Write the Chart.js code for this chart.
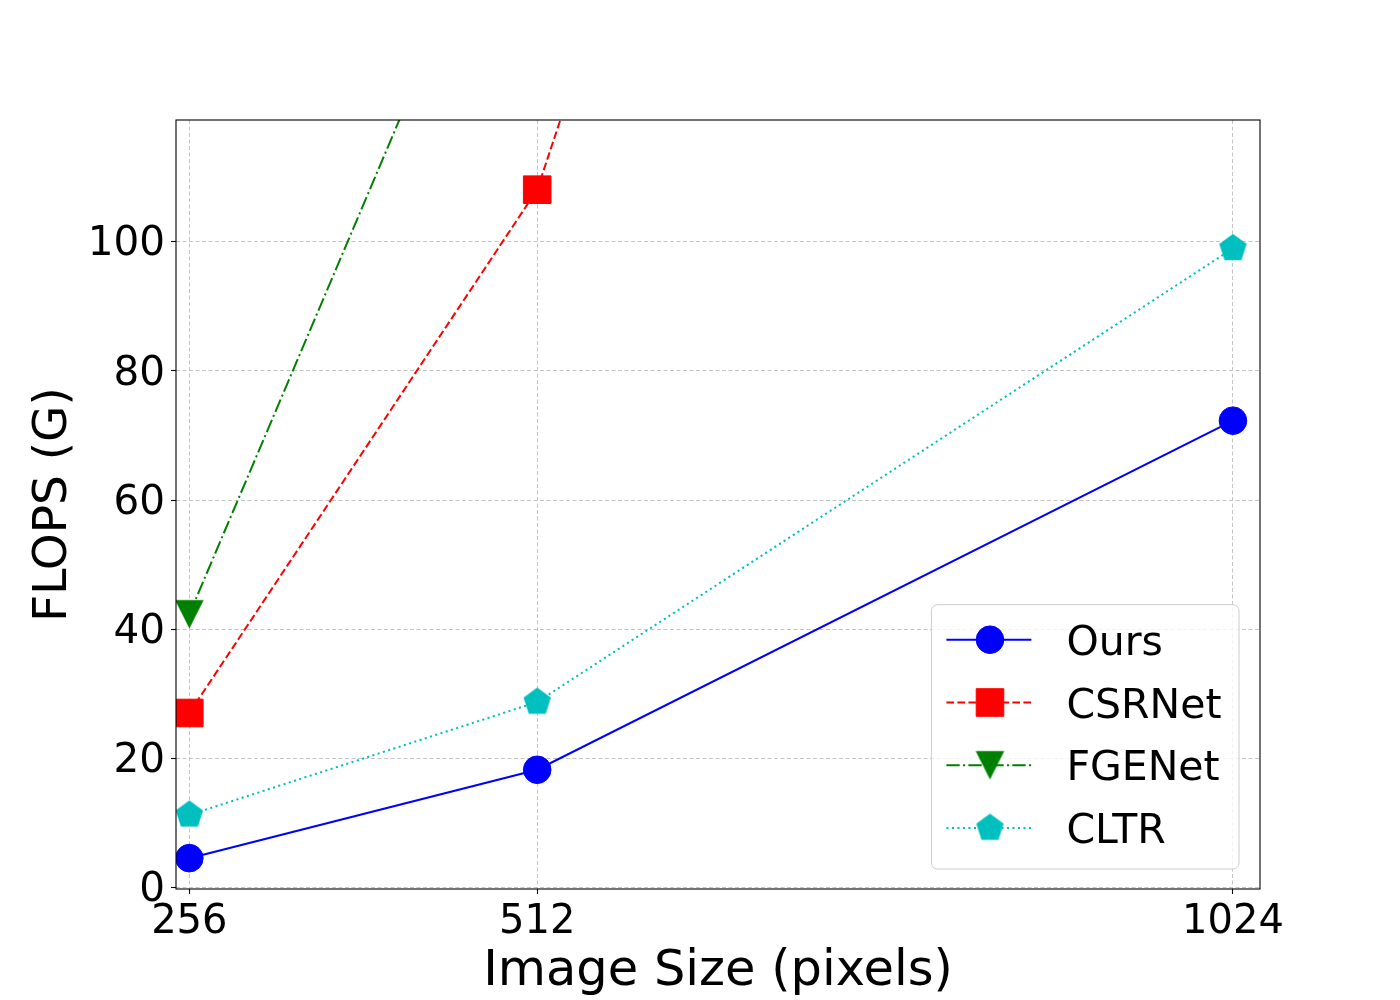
<!DOCTYPE html>
<html>
<head>
<meta charset="utf-8">
<script src="https://cdn.jsdelivr.net/npm/chart.js@4.4.0/dist/chart.umd.min.js"></script>
<style>
html, body { margin: 0; padding: 0; background: #ffffff; }
#wrap { width: 1400px; height: 1000px; }
canvas { display: block; }
</style>
</head>
<body>
<div id="wrap"><canvas id="c" width="1400" height="1000"></canvas></div>
<script>
// ---- data ----
const imageSizes = [256, 512, 1024];
const oursFlops = [4.5, 18.2, 72.3];
const csrnetFlops = [27.0, 108.1, 432.4];
const fgenetFlops = [42.3, 169.2, 676.8];
const cltrFlops = [11.2, 28.7, 99.0];
const seriesNames = ['Ours', 'CSRNet', 'FGENet', 'CLTR'];
const xTickValues = [256, 512, 1024];
const yTickValues = [0, 20, 40, 60, 80, 100];
const xLabel = 'Image Size (pixels)';
const yLabel = 'FLOPS (G)';

// ---- custom marker images ----
function pentagonMarker(color, R) {
  const s = Math.ceil(2 * R + 2);
  const c = document.createElement('canvas');
  c.width = s; c.height = s;
  const g = c.getContext('2d');
  g.fillStyle = color;
  g.beginPath();
  for (let k = 0; k < 5; k++) {
    const a = (-90 + 72 * k) * Math.PI / 180;
    const px = s / 2 + R * Math.cos(a), py = s / 2 + R * Math.sin(a);
    if (k === 0) g.moveTo(px, py); else g.lineTo(px, py);
  }
  g.closePath();
  g.fill();
  return c;
}
function triangleDownMarker(color, h) {
  const s = Math.ceil(2 * h + 2);
  const c = document.createElement('canvas');
  c.width = s; c.height = s;
  const g = c.getContext('2d');
  g.fillStyle = color;
  g.beginPath();
  g.moveTo(s / 2 - h, s / 2 - h);
  g.lineTo(s / 2 + h, s / 2 - h);
  g.lineTo(s / 2, s / 2 + h);
  g.closePath();
  g.fill();
  return c;
}

const BLUE = '#0000ff', RED = '#ff0000', GREEN = '#008000', CYAN = '#00bfbf';
const FONT = "'DejaVu Sans', 'Liberation Sans', sans-serif";

function pts(vals) { return imageSizes.map((x, i) => ({ x: x, y: vals[i] })); }

const datasets = [
  { label: seriesNames[0], data: pts(oursFlops), borderColor: BLUE, backgroundColor: BLUE,
    borderWidth: 2, borderDash: [], pointStyle: 'circle', pointRadius: 13.8,
    pointBackgroundColor: BLUE, pointBorderColor: BLUE, pointBorderWidth: 1, order: 4 },
  { label: seriesNames[1], data: pts(csrnetFlops), borderColor: RED, backgroundColor: RED,
    borderWidth: 2, borderDash: [7.7, 3.3], pointStyle: 'rect', pointRadius: 19.5,
    pointBackgroundColor: RED, pointBorderColor: RED, pointBorderWidth: 1, order: 3 },
  { label: seriesNames[2], data: pts(fgenetFlops), borderColor: GREEN, backgroundColor: GREEN,
    borderWidth: 2, borderDash: [13.3, 3.3, 2.1, 3.3], pointStyle: triangleDownMarker(GREEN, 14.3), pointRadius: 14,
    pointBackgroundColor: GREEN, pointBorderColor: GREEN, pointBorderWidth: 0, order: 2 },
  { label: seriesNames[3], data: pts(cltrFlops), borderColor: CYAN, backgroundColor: CYAN,
    borderWidth: 2, borderDash: [2.1, 3.4], pointStyle: pentagonMarker(CYAN, 14.4), pointRadius: 14,
    pointBackgroundColor: CYAN, pointBorderColor: CYAN, pointBorderWidth: 0, order: 1 }
];
datasets.forEach(d => { d.tension = 0; d.fill = false; d.clip = 0; d.showLine = true; });

// frame (all four spines)
const framePlugin = {
  id: 'frame',
  afterDatasetsDraw(chart) {
    const a = chart.chartArea, ctx = chart.ctx;
    ctx.save();
    ctx.strokeStyle = '#000000';
    ctx.lineWidth = 1.1;
    ctx.setLineDash([]);
    ctx.strokeRect(a.left, a.top, a.right - a.left, a.bottom - a.top);
    ctx.restore();
  }
};

// legend box inside the plot, lower right
const boxLegendPlugin = {
  id: 'boxLegend',
  afterDraw(chart) {
    const a = chart.chartArea, ctx = chart.ctx;
    const w = 307.6, h = 264.3;
    const bx = a.right - 21 - w, by = a.bottom - 20 - h;
    ctx.save();
    ctx.beginPath();
    if (ctx.roundRect) ctx.roundRect(bx, by, w, h, 6); else ctx.rect(bx, by, w, h);
    ctx.fillStyle = 'rgba(255,255,255,0.8)';
    ctx.fill();
    ctx.strokeStyle = '#cccccc';
    ctx.lineWidth = 1;
    ctx.stroke();
    const dsList = chart.data.datasets;
    dsList.forEach((ds, i) => {
      const y = by + 35 + i * 62.8;
      const lx0 = bx + 15, lx1 = bx + 100, mx = bx + 58.6;
      ctx.strokeStyle = ds.borderColor;
      ctx.lineWidth = ds.borderWidth;
      ctx.setLineDash(ds.borderDash || []);
      ctx.beginPath();
      ctx.moveTo(lx0, y);
      ctx.lineTo(lx1, y);
      ctx.stroke();
      ctx.setLineDash([]);
      ctx.fillStyle = ds.pointBackgroundColor;
      ctx.strokeStyle = ds.pointBorderColor;
      ctx.lineWidth = ds.pointBorderWidth;
      Chart.helpers.drawPoint(ctx, {
        pointStyle: ds.pointStyle, radius: ds.pointRadius, rotation: 0,
        borderWidth: ds.pointBorderWidth
      }, mx, y);
      ctx.fillStyle = '#000000';
      ctx.font = '41px ' + FONT;
      ctx.textAlign = 'left';
      ctx.textBaseline = 'alphabetic';
      ctx.fillText(ds.label, bx + 135, y + 15);
    });
    ctx.restore();
  }
};

const gridCommon = {
  display: true,
  drawOnChartArea: true,
  drawTicks: true,
  color: '#c4c4c4',
  lineWidth: 1,
  borderDash: [4, 2.5],
  tickLength: 5,
  tickColor: '#000000',
  tickWidth: 1.1,
  tickBorderDash: []
};
const borderCommon = { display: false, dash: [4, 2.5], dashOffset: 0 };

new Chart(document.getElementById('c'), {
  type: 'line',
  data: { datasets: datasets },
  options: {
    responsive: false,
    devicePixelRatio: 1,
    animation: false,
    events: [],
    layout: { padding: { top: 120, right: 140, left: 0, bottom: 0 } },
    plugins: { legend: { display: false }, tooltip: { enabled: false }, title: { display: false } },
    scales: {
      x: {
        type: 'linear',
        position: 'bottom',
        min: 246.2,
        max: 1043.9,
        afterBuildTicks: (s) => { s.ticks = xTickValues.map(v => ({ value: v })); },
        afterFit: (s) => { s.height = 111; },
        grid: Object.assign({}, gridCommon),
        border: Object.assign({}, borderCommon),
        ticks: {
          color: '#000000',
          font: { family: FONT, size: 40 },
          padding: 5,
          maxRotation: 0,
          autoSkip: false,
          callback: (v) => String(v)
        },
        title: {
          display: true,
          text: xLabel,
          color: '#000000',
          font: { family: FONT, size: 49.5, lineHeight: 1 },
          padding: { top: 0, bottom: 3 }
        }
      },
      y: {
        type: 'linear',
        position: 'left',
        min: -0.28,
        max: 118.9,
        afterBuildTicks: (s) => { s.ticks = yTickValues.map(v => ({ value: v })); },
        afterFit: (s) => { s.width = 176; },
        grid: Object.assign({}, gridCommon),
        border: Object.assign({}, borderCommon),
        ticks: {
          color: '#000000',
          font: { family: FONT, size: 40.5 },
          padding: 6,
          labelOffset: 3,
          autoSkip: false,
          callback: (v) => String(v)
        },
        title: {
          display: true,
          text: yLabel,
          color: '#000000',
          font: { family: FONT, size: 47, lineHeight: 1 },
          padding: { top: 30, bottom: 0 }
        }
      }
    }
  },
  plugins: [framePlugin, boxLegendPlugin]
});
</script>
</body>
</html>
